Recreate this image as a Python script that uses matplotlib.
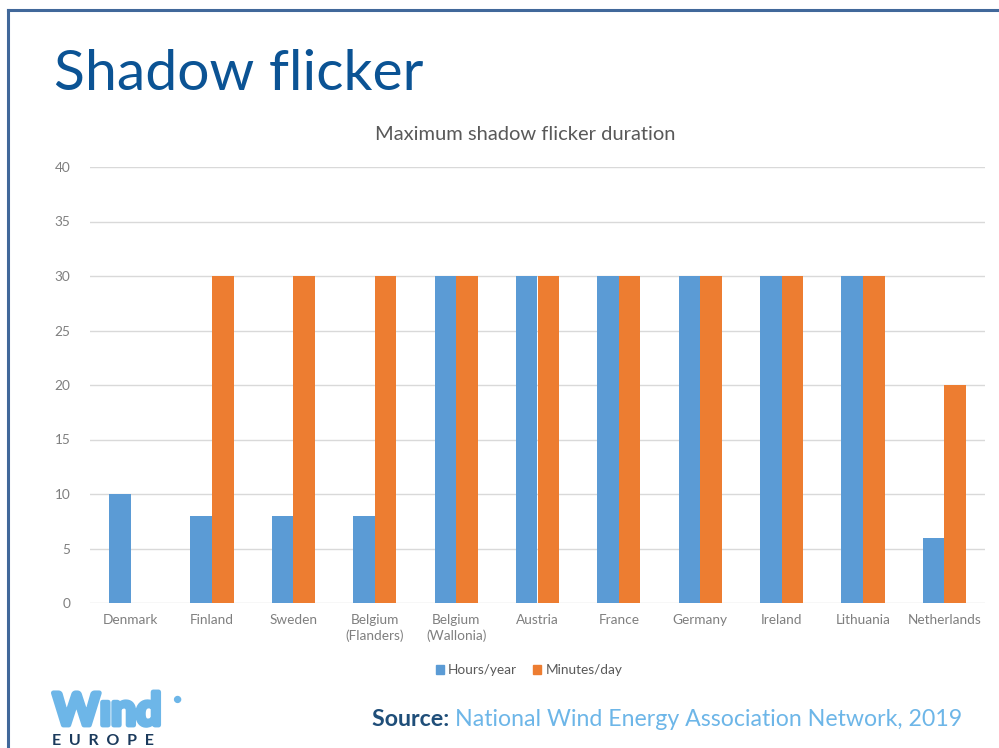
"""
Shadow flicker slide - grouped bar chart of max flicker duration per country
"""

import matplotlib.pyplot as plt
import matplotlib.patches as mpatches
import matplotlib.patheffects as pe
from matplotlib.lines import Line2D
import numpy as np

plt.rcParams['font.family'] = ['Lato', 'DejaVu Sans']

# data
countries = ['Denmark', 'Finland', 'Sweden', 'Belgium\n(Flanders)', 'Belgium\n(Wallonia)',
             'Austria', 'France', 'Germany', 'Ireland', 'Lithuania', 'Netherlands']
hours_year = [10, 8, 8, 8, 30, 30, 30, 30, 30, 30, 6]
minutes_day = [0, 30, 30, 30, 30, 30, 30, 30, 30, 30, 20]
yticks = [0, 5, 10, 15, 20, 25, 30, 35, 40]

W, H = 999, 748
fig = plt.figure(figsize=(W / 100, H / 100), dpi=100)
fig.patch.set_facecolor('white')

# slide frame (top + left blue lines)
frame_col = '#41689A'
fig.add_artist(Line2D([8 / W, 1], [1 - 10 / H, 1 - 10 / H], color=frame_col, lw=2.2))
fig.add_artist(Line2D([8 / W, 8 / W], [0, 1 - 10 / H], color=frame_col, lw=2.2))

# slide title
fig.text(54 / W, 1 - 90 / H, 'Shadow flicker', fontsize=41, color='#0B5394',
         ha='left', va='baseline')

# chart area
ax = fig.add_axes([90 / W, (H - 603) / H, 895 / W, 436 / H])
x = np.arange(len(countries))
bw = 0.265
ax.bar(x - bw / 2, hours_year, bw, color='#5B9BD5', label='Hours/year', zorder=3)
ax.bar(x + bw / 2, minutes_day, bw, color='#ED7D31', label='Minutes/day', zorder=3)

ax.set_xlim(-0.5, len(countries) - 0.5)
ax.set_ylim(0, 40)
ax.set_yticks(yticks)
ax.set_xticks(x)
ax.set_xticklabels(countries, fontsize=9.8, color='#7F7F7F', linespacing=1.3)
ax.tick_params(axis='y', labelsize=9.8, labelcolor='#7F7F7F', length=0, pad=14)
ax.tick_params(axis='x', length=0, pad=8)
ax.grid(axis='y', color='#D9D9D9', linewidth=1, zorder=0)
for s in ax.spines.values():
    s.set_visible(False)

fig.text(525 / W, 1 - 134 / H, 'Maximum shadow flicker duration', fontsize=14.5,
         color='#595959', ha='center', va='center')

# legend under the axis labels
h1 = mpatches.Patch(color='#5B9BD5', label='Hours/year')
h2 = mpatches.Patch(color='#ED7D31', label='Minutes/day')
fig.legend(handles=[h1, h2], loc='center', bbox_to_anchor=(529 / W, 1 - 670 / H),
           ncol=2, frameon=False, fontsize=9.8, labelcolor='#595959',
           handlelength=0.6, handleheight=0.6, handletextpad=0.3, columnspacing=1.2)

# source line, two colours
src = fig.text(372 / W, 1 - 726 / H, 'Source: ', fontsize=16.7, fontweight='bold',
               color='#1F4E79', ha='left', va='baseline')
fig.canvas.draw()
bb = src.get_window_extent()
fig.text(bb.x1 / W, 1 - 726 / H, 'National Wind Energy Association Network, 2019',
         fontsize=16.7, color='#6DB6E8', ha='left', va='baseline')

# WindEurope logo as text
logo_col = '#6DB6E8'
fig.text(53 / W, 1 - 725 / H, 'W\u0131nd', fontsize=32, fontweight='bold',
         color=logo_col, ha='left', va='baseline',
         path_effects=[pe.withStroke(linewidth=3.5, foreground=logo_col)])
fig.text(177 / W, 1 - 700 / H, '\u25CF', fontsize=11, color=logo_col,
         ha='center', va='center')
fig.text(52 / W, 1 - 745 / H, 'E  U  R  O  P  E', fontsize=11.5, fontweight='bold',
         color='#1B3A5C', ha='left', va='baseline')

plt.savefig('out.png', dpi=100, facecolor='white')
plt.close()
